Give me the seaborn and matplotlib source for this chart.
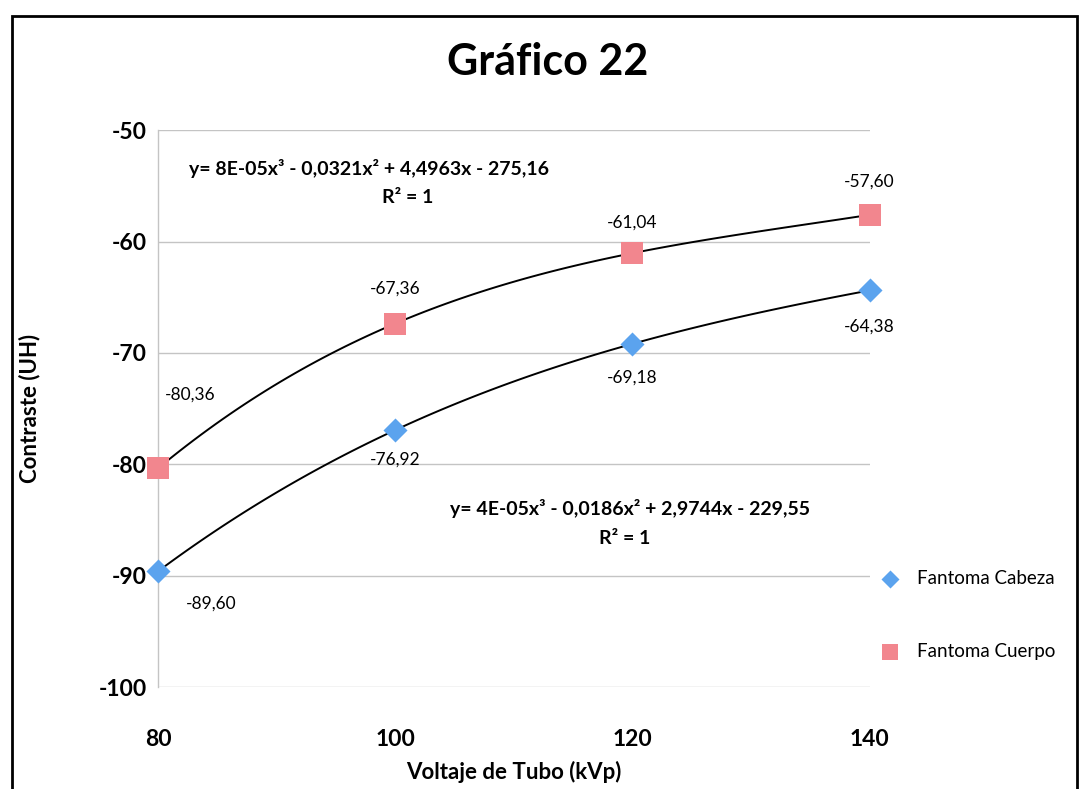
import matplotlib
matplotlib.use("Agg")
import matplotlib.pyplot as plt
import matplotlib.patches as mpatches
import pandas as pd
import seaborn as sns

# data
voltaje = [80, 100, 120, 140]
cabeza = [-89.60, -76.92, -69.18, -64.38]
cuerpo = [-80.36, -67.36, -61.04, -57.60]
cabeza_labels = ["-89,60", "-76,92", "-69,18", "-64,38"]
cuerpo_labels = ["-80,36", "-67,36", "-61,04", "-57,60"]
y_ticks = [-100, -90, -80, -70, -60, -50]
x_ticks = [80, 100, 120, 140]

eq_cuerpo = "y= 8E-05x³ - 0,0321x² + 4,4963x - 275,16"
eq_cabeza = "y= 4E-05x³ - 0,0186x² + 2,9744x - 229,55"

BLUE = "#5BA3EE"
PINK = "#F2868E"

sns.set_theme(style="white")
plt.rcParams.update(
    {
        "font.family": ["Lato", "DejaVu Sans"],
        "axes.unicode_minus": False,
        "text.color": "black",
        "axes.labelcolor": "black",
        "xtick.color": "black",
        "ytick.color": "black",
    }
)

df_cab = pd.DataFrame({"kvp": voltaje, "contraste": cabeza})
df_cue = pd.DataFrame({"kvp": voltaje, "contraste": cuerpo})

fig = plt.figure(figsize=(10.79, 7.89), dpi=100)
ax = fig.add_axes([0.1464, 0.129, 0.806 - 0.1464, 0.835 - 0.129])

# cubic trendlines (Excel polynomial order 3)
for frame in (df_cab, df_cue):
    sns.regplot(
        data=frame, x="kvp", y="contraste", order=3, ci=None, scatter=False,
        ax=ax, line_kws={"color": "black", "linewidth": 1.4, "zorder": 2},
    )

sns.scatterplot(
    data=df_cab, x="kvp", y="contraste", marker="D", s=150, color=BLUE,
    linewidth=0, ax=ax, label="Fantoma Cabeza", zorder=3, clip_on=False,
)
sns.scatterplot(
    data=df_cue, x="kvp", y="contraste", marker="s", s=260, color=PINK,
    linewidth=0, ax=ax, label="Fantoma Cuerpo", zorder=3, clip_on=False,
)

# data labels (offsets in pixels)
cab_off = [(53, -32), (0, -30), (0, -34), (0, -36)]
cue_off = [(32, 74), (0, 35), (0, 31), (0, 33)]
for x, y, lab, off in zip(voltaje, cabeza, cabeza_labels, cab_off):
    ax.annotate(lab, (x, y), xytext=off, textcoords="offset pixels",
                ha="center", va="center", fontsize=12.5)
for x, y, lab, off in zip(voltaje, cuerpo, cuerpo_labels, cue_off):
    ax.annotate(lab, (x, y), xytext=off, textcoords="offset pixels",
                ha="center", va="center", fontsize=12.5)

# trendline equations
fig.text(369 / 1079, 1 - 168 / 789, eq_cuerpo, ha="center", va="center",
         fontsize=14, fontweight="bold")
fig.text(408 / 1079, 1 - 198 / 789, "R² = 1", ha="center", va="center",
         fontsize=14, fontweight="bold")
fig.text(630 / 1079, 1 - 508 / 789, eq_cabeza, ha="center", va="center",
         fontsize=14, fontweight="bold")
fig.text(625 / 1079, 1 - 538 / 789, "R² = 1", ha="center", va="center",
         fontsize=14, fontweight="bold")

ax.set_xlim(80, 140)
ax.set_ylim(-100, -50)
ax.set_yticks(y_ticks)
ax.set_xticks(x_ticks)
ax.set_yticklabels([str(v) for v in y_ticks], fontweight="bold", fontsize=16.5)
ax.set_xticklabels([str(v) for v in x_ticks], fontweight="bold", fontsize=16.5)
ax.tick_params(axis="x", length=0, pad=30)
ax.tick_params(axis="y", length=0, pad=8)
ax.grid(axis="y", color="#c4c4c4", linewidth=1.0)
ax.grid(axis="x", visible=False)
for side in ("top", "right", "bottom"):
    ax.spines[side].set_visible(False)
ax.spines["left"].set_color("#c4c4c4")
ax.spines["left"].set_linewidth(1.0)

ax.set_xlabel("Voltaje de Tubo (kVp)", fontsize=16, fontweight="bold", labelpad=8)
ax.set_ylabel("Contraste (UH)", fontsize=16, fontweight="bold", labelpad=42)

ax.legend(
    loc="center left", bbox_to_anchor=(0.995, 0.13), frameon=False,
    fontsize=13.5, labelspacing=3.0, handletextpad=0.8, borderaxespad=0.3,
    markerscale=0.75, handlelength=1.2,
)

fig.text(548 / 1079, 1 - 62 / 789, "Gráfico 22", ha="center", va="center",
         fontsize=31, fontweight="bold")

# outer chart frame
fig.patches.append(mpatches.Rectangle(
    (12 / 1079, -0.02), (1077 - 12) / 1079, 1.01 - 8 / 789,
    transform=fig.transFigure, fill=False, edgecolor="black", linewidth=2.0,
))

fig.savefig("out.png", dpi=100, facecolor="white")
